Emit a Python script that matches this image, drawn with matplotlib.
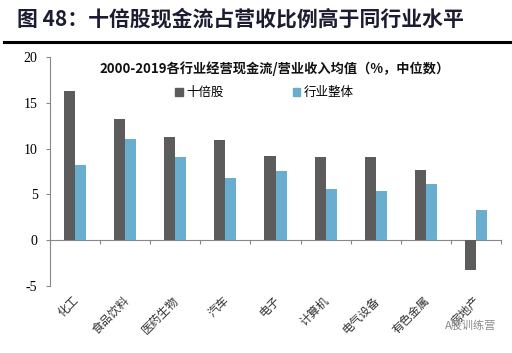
import numpy as np
import matplotlib
matplotlib.use("Agg")
from matplotlib import pyplot as plt
from matplotlib.patches import Patch

plt.rcParams['font.family'] = ['Noto Sans CJK SC', 'DejaVu Sans']

# данные
categories = ['化工', '食品饮料', '医药生物', '汽车', '电子', '计算机', '电气设备', '有色金属', '房地产']
ten_bagger = [16.3, 13.2, 11.3, 10.9, 9.2, 9.1, 9.1, 7.7, -3.2]
industry = [8.2, 11.0, 9.1, 6.8, 7.6, 5.6, 5.4, 6.1, 3.3]
y_ticks = [-5, 0, 5, 10, 15, 20]

c_dark = '#5c5c5c'
c_light = '#6aaecf'

fig = plt.figure(figsize=(5.12, 3.53), dpi=100)
ax = fig.add_axes([50 / 512, 1 - 286 / 353, 451 / 512, 229 / 353])

x = np.arange(len(categories))
w = 0.22
ax.bar(x - w / 2, ten_bagger, w, color=c_dark, label='十倍股')
ax.bar(x + w / 2, industry, w, color=c_light, label='行业整体')

ax.set_xlim(-0.5, len(categories) - 0.5)
ax.set_ylim(-5, 20)
ax.set_yticks(y_ticks)
ax.set_yticklabels([str(v) for v in y_ticks], family='Liberation Serif', fontsize=10)
ax.tick_params(axis='y', direction='out', length=3, color='#888888', pad=6)
for s in ['top', 'right', 'bottom']:
    ax.spines[s].set_visible(False)
ax.spines['left'].set_color('#888888')
ax.set_xticks([])

# ось x на нуле
sec = ax.secondary_xaxis(0.2)
sec.set_xticks(np.arange(len(categories) + 1) - 0.5)
sec.set_xticklabels([])
sec.tick_params(direction='out', length=3, color='#888888')
sec.spines['bottom'].set_color('#888888')

# подписи категорий
trans = ax.get_xaxis_transform()
for i, name in enumerate(categories):
    ax.text(i + 0.04, -0.055, name, transform=trans, rotation=45, ha='right', va='center',
            rotation_mode='anchor', fontsize=8.5, color='#333333')

ax.text(0.498, 0.95, '2000-2019各行业经营现金流/营业收入均值（%，中位数）', transform=ax.transAxes,
        ha='center', va='center', fontsize=9.5, fontweight='bold', color='#111111')

handles = [Patch(color=c_dark, label='十倍股'), Patch(color=c_light, label='行业整体')]
ax.legend(handles=handles, loc='center', bbox_to_anchor=(0.476, 0.845), ncol=2, frameon=False,
          fontsize=9, handlelength=0.6, handleheight=0.6, handletextpad=0.3, columnspacing=5.5)

# заголовок
fig.text(17 / 512, 1 - 19 / 353, '图 48：十倍股现金流占营收比例高于同行业水平', ha='left', va='center',
         fontsize=15, fontweight='bold', color='#1c1c30')
fig.add_artist(plt.Line2D([4 / 512, 1], [1 - 42 / 353, 1 - 42 / 353], color='black', lw=2.2))

fig.text(445 / 512, 1 - 326 / 353, 'A股训练营', ha='left', va='center', fontsize=8, color='#8a8a8a')

fig.savefig('out.png', dpi=100)
